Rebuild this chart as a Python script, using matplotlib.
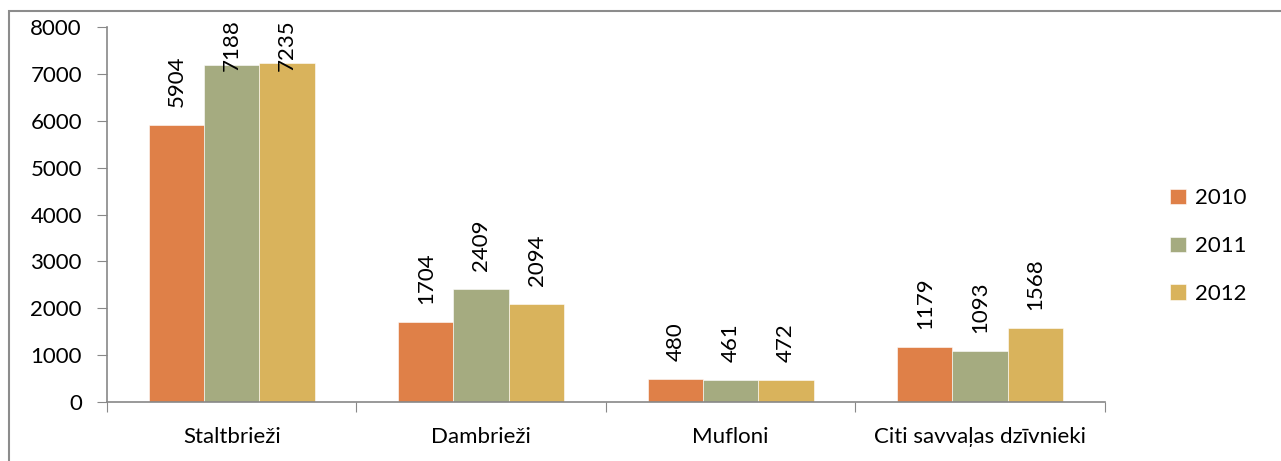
import matplotlib
matplotlib.use('Agg')
import matplotlib.pyplot as plt
import matplotlib.transforms as mtransforms
import numpy as np
from matplotlib.patches import Rectangle

categories = ['Staltbrieži', 'Dambrieži', 'Mufloni', 'Citi savvaļas dzīvnieki']
years = ['2010', '2011', '2012']
v2010 = [5904, 1704, 480, 1179]
v2011 = [7188, 2409, 461, 1093]
v2012 = [7235, 2094, 472, 1568]
colors = ['#DF8048', '#A5AB80', '#D9B35C']

plt.rcParams['font.family'] = ['Lato', 'DejaVu Sans']
plt.rcParams['font.size'] = 16

W, H = 1281, 461
fig = plt.figure(figsize=(W / 100, H / 100), dpi=100)
ax = fig.add_axes([0.0835, 0.128, 0.779, 0.8134])

# outer chart frame (runs off the right and bottom edges)
fig.patches.append(Rectangle((9 / W, -0.1), 1.2, 1 - 11 / H + 0.1,
                             transform=fig.transFigure, fill=False,
                             edgecolor='#8c8c8c', linewidth=1.5, zorder=0))

ax.set_xlim(-0.5, 3.5)
ax.set_ylim(0, 8000)

x = np.arange(len(categories))
w = 0.222
series = [v2010, v2011, v2012]
top_limit = 19  # px from the top of the figure the labels may reach
label_len = 52  # px, rotated 4-digit label
x_fig = mtransforms.blended_transform_factory(ax.transData, fig.transFigure)
for i, (vals, c, yr) in enumerate(zip(series, colors, years)):
    pos = x + (i - 1) * w
    ax.bar(pos, vals, w, color=c, label=yr, edgecolor='white', linewidth=0.4)
    for p, v in zip(pos, vals):
        bar_top = H - ax.transData.transform((p, v))[1]
        if bar_top - 18 - label_len < top_limit:
            # pushed down so the label stays inside the chart
            ax.text(p, 1 - top_limit / H, str(v), rotation=90, ha='center',
                    va='top', transform=x_fig)
        else:
            ax.annotate(str(v), (p, v), xytext=(0, 13), textcoords='offset points',
                        rotation=90, ha='center', va='bottom')

ax.set_yticks(range(0, 8001, 1000))
ax.set_xticks(np.arange(-0.5, 4, 1))
ax.set_xticklabels([])
ax.set_xticks(x, minor=True)
ax.set_xticklabels(categories, minor=True)
ax.tick_params(axis='x', which='minor', length=0, pad=18)
ax.tick_params(axis='x', which='major', length=7, color='#888888', direction='out')
ax.tick_params(axis='y', length=7, color='#888888', direction='out', pad=11)

for s in ['top', 'right']:
    ax.spines[s].set_visible(False)
for s in ['left', 'bottom']:
    ax.spines[s].set_color('#888888')
    ax.spines[s].set_linewidth(1.2)

fig.legend(loc='center left', bbox_to_anchor=(0.898, 0.466), frameon=False,
           handlelength=0.7, handleheight=0.7, handletextpad=0.4,
           labelspacing=1.25)

fig.savefig('out.png', dpi=100)
